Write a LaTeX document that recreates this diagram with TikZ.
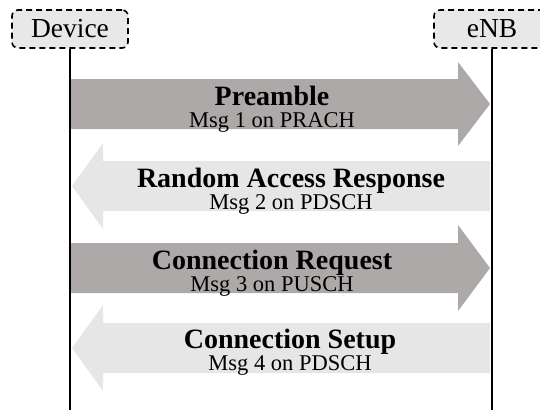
\documentclass[tikz,border=0pt]{standalone}
\usepackage{fontspec}
\setmainfont{Liberation Serif}
\usetikzlibrary{positioning}
\definecolor{partygray}{RGB}{232,232,232}
\definecolor{ulgray}{RGB}{173,169,168}
\definecolor{dlgray}{RGB}{230,230,230}

\begin{document}
\begin{tikzpicture}[x=1pt, y=-1pt,
              party/.style={draw, line width=1.6pt, dash pattern=on 6pt off 4pt, rounded corners=6pt, fill=partygray, minimum width=116pt, minimum height=38pt, inner sep=0pt, font=\fontsize{27.5}{30}\selectfont},
              lifeline/.style={line width=2pt},
              uplink/.style={fill=ulgray},
              downlink/.style={fill=dlgray},
              msgname/.style={anchor=base, inner sep=0pt, font=\fontsize{28}{30}\selectfont\bfseries},
              msgchan/.style={anchor=base, inner sep=0pt, font=\fontsize{22.5}{24}\selectfont}
            ]
            \useasboundingbox (0,0) rectangle (540,410);

            % Uczestnicy
            \node[party] (dev) at (70,29) {Device};
            \node[party] (enb) at (492,29) {eNB};
            \coordinate (devend) at (70,410);
            \coordinate (enbend) at (492,410);

            % Msg 1
            \fill[uplink] (71,79) -- (458,79) -- (458,62) -- (490,104) -- (458,146) -- (458,129) -- (71,129) -- cycle;
            \node[msgname] (m1) at (272,105) {Preamble};
            \node[msgchan] (c1) at (272,127) {Msg 1 on PRACH};

            % Msg 2
            \fill[downlink] (490,161) -- (103,161) -- (103,143) -- (72,186) -- (103,229) -- (103,211) -- (490,211) -- cycle;
            \node[msgname] (m2) at (291,187) {Random Access Response};
            \node[msgchan] (c2) at (291,209) {Msg 2 on PDSCH};

            % Msg 3
            \fill[uplink] (71,243) -- (458,243) -- (458,225) -- (490,268) -- (458,311) -- (458,293) -- (71,293) -- cycle;
            \node[msgname] (m3) at (272,269) {Connection Request};
            \node[msgchan] (c3) at (272,291) {Msg 3 on PUSCH};

            % Msg 4
            \fill[downlink] (490,323) -- (103,323) -- (103,305) -- (72,348) -- (103,391) -- (103,373) -- (490,373) -- cycle;
            \node[msgname] (m4) at (290,348) {Connection Setup};
            \node[msgchan] (c4) at (290,370) {Msg 4 on PDSCH};

            % Linie życia
            \draw[lifeline] (dev.south) -- (devend);
            \draw[lifeline] (enb.south) -- (enbend);

\end{tikzpicture}
\end{document}
